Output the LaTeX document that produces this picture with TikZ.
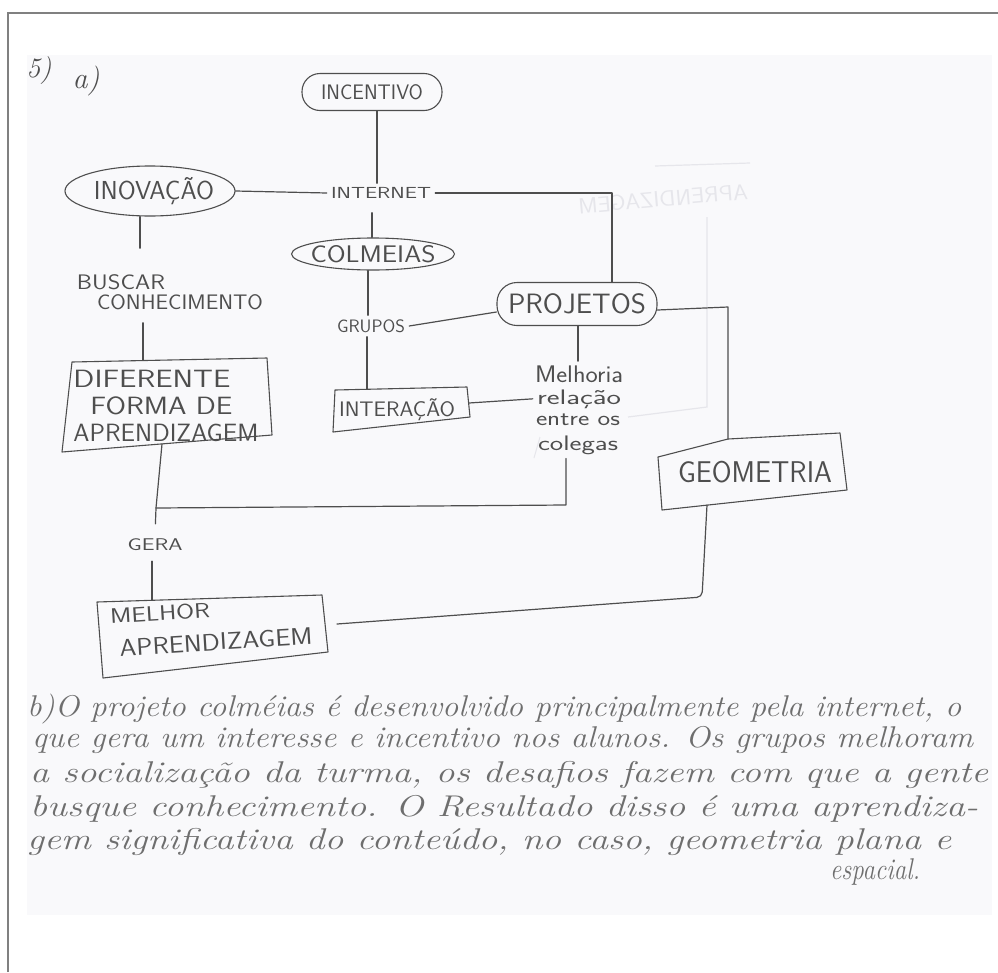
\documentclass[tikz,border=0pt]{standalone}
\usepackage{fontspec}
\usepackage{graphicx}
\usetikzlibrary{shapes.geometric}

\definecolor{framegray}{RGB}{128,128,128}
\definecolor{papertint}{RGB}{249,249,251}
\definecolor{pencil}{RGB}{78,78,78}
\definecolor{cursive}{RGB}{110,110,110}
\definecolor{showthrough}{RGB}{230,230,235}

% text set at a given size, then stretched or squeezed to a given width
\newcommand{\penlabel}[3]{{\fontsize{#1}{#1}\selectfont\resizebox{#2}{\height}{#3}}}

\tikzset{
  lab/.style={inner sep=4pt, text=pencil, font=\sffamily},
  oval/.style={ellipse, draw=pencil, line width=1.1pt, inner sep=0pt, text=pencil, font=\sffamily},
  stadium/.style={rectangle, draw=pencil, line width=1.1pt, inner sep=0pt, text=pencil, font=\sffamily},
  outline/.style={draw=pencil, line width=1.1pt, line join=round},
  link/.style={draw=pencil, line width=1.2pt, line cap=round, line join=round},
  prose/.style={anchor=base west, inner sep=0pt, text=cursive, font=\itshape},
}

\begin{document}
\begin{tikzpicture}[x=1pt, y=-1pt]
\useasboundingbox (0,0) rectangle (998,972);
\fill[white] (0,0) rectangle (998,972);

% scanned sheet and page frame
\fill[papertint] (27,55) rectangle (992,915);
\draw[framegray, line width=2pt] (7.5,972) -- (7.5,13) -- (998,13);

% faint marks showing through from the back of the sheet
\draw[showthrough, line width=1.2pt] (655,166) -- (750,163);
\draw[showthrough, line width=1.2pt] (707,217) -- (707,407) -- (628,417);
\draw[showthrough, line width=1pt] (540,437) -- (534,458);
\node[text=showthrough, font=\sffamily, rotate=5, inner sep=0pt] (backword) at (663,199)
  {\scalebox{-1}[1]{\penlabel{22}{170pt}{APRENDIZAGEM}}};

% item numbers
\node[font=\itshape\fontsize{28}{28}\selectfont, text=pencil, inner sep=0pt] (item5) at (39,71) {5)};
\node[font=\itshape\fontsize{30}{30}\selectfont, text=pencil, inner sep=0pt] (itema) at (86,81) {a)};

% concept map: oval concepts
\node[stadium, rounded corners=18pt, minimum width=140pt, minimum height=37pt] (inc) at (372,92)
  {\makebox[0pt]{\penlabel{21}{102pt}{INCENTIVO}}};
\node[oval, minimum width=170pt, minimum height=50pt] (inov) at (150,191)
  {\makebox[0pt]{\hspace*{8pt}\penlabel{26}{120pt}{INOVAÇÃO}}};
\node[oval, minimum width=163pt, minimum height=32pt] (col) at (373,254)
  {\makebox[0pt]{\penlabel{24}{125pt}{COLMEIAS}}};
\node[stadium, rounded corners=20pt, minimum width=160pt, minimum height=43pt] (proj) at (577,304)
  {\makebox[0pt]{\penlabel{28}{138pt}{PROJETOS}}};

% linking words
\node[lab] (intn) at (381,193) {\penlabel{16}{100pt}{INTERNET}};
\node[lab] (busc) at (121,282) {\penlabel{21}{88pt}{BUSCAR}};
\node[lab] (conh) at (180,302) {\penlabel{21}{166pt}{CONHECIMENTO}};
\node[lab] (grp) at (371,326) {\penlabel{18}{68pt}{GRUPOS}};
\node[lab] (gera) at (155,545) {\penlabel{17}{55pt}{GERA}};
\node[lab, anchor=base, font=\sffamily\fontsize{24}{24}\selectfont] (mlh) at (579,382) {\resizebox{88pt}{\height}{Melhoria}};
\node[lab, anchor=base, font=\sffamily\fontsize{21}{21}\selectfont] (rel) at (579,404) {\resizebox{84pt}{\height}{relação}};
\node[lab, anchor=base, font=\sffamily\fontsize{21}{21}\selectfont] (entre) at (578,425) {\resizebox{84pt}{\height}{entre os}};
\node[lab, anchor=base, font=\sffamily\fontsize{21}{21}\selectfont] (coleg) at (578,450) {\resizebox{80pt}{\height}{colegas}};

% boxed concepts (hand-drawn outlines)
\node[lab] (inter) at (397,410) {\penlabel{21}{116pt}{INTERAÇÃO}};
\draw[outline] (335,390) -- (467,387) -- (470,417) -- (333,432) -- cycle;

\node[lab, align=left, font=\sffamily\fontsize{25}{27}\selectfont] (dif) at (166,406)
  {\resizebox{157pt}{\height}{DIFERENTE}\\
   \hspace*{17pt}\resizebox{142pt}{\height}{FORMA DE}\\
   \resizebox{185pt}{\height}{APRENDIZAGEM}};
\draw[outline] (72,362) -- (267,358) -- (272,435) -- (62,452) -- cycle;

\node[lab] (geo) at (755,472) {\penlabel{30}{154pt}{GEOMETRIA}};
\draw[outline] (658,457) -- (728,439) -- (840,433) -- (847,490) -- (662,510) -- cycle;

\node[lab, inner sep=1pt, rotate=3.5] (melA) at (160,613) {\penlabel{21}{100pt}{MELHOR}};
\node[lab, inner sep=1pt, rotate=3.5] (melB) at (216,642) {\penlabel{24}{193pt}{APRENDIZAGEM}};
\draw[outline] (97,602) -- (322,595) -- (328,652) -- (103,678) -- cycle;

% attachment points on the drawn outlines and bends
\coordinate (inter-t) at (367,389);
\coordinate (inter-r) at (469,403);
\coordinate (dif-t) at (143,360);
\coordinate (dif-b) at (162,444);
\coordinate (geo-t) at (728,439);
\coordinate (geo-b) at (707,505);
\coordinate (mel-t) at (152,600);
\coordinate (mel-r) at (337,624);
\coordinate (jn) at (156,508);
\coordinate (proj-bend) at (728,307);
\coordinate (geo-bend) at (702,597);
\coordinate (coleg-bend) at (566,505);

% connectors
\draw[link] (inc.south -| 377,0) -- (377,0 |- intn.north);
\draw[link] (inov.east) -- (intn.west);
\draw[link] (intn.east) -| (612,0 |- proj.north);
\draw[link, shorten <=10pt] (intn.south -| 372,0) -- (372,0 |- col.north);
\draw[link, shorten >=22pt] (inov.south -| 140,0) -- (140,0 |- busc.north);
\draw[link, shorten <=9pt] (conh.south -| 143,0) -- (dif-t);
\draw[link] (col.south -| 368,0) -- (368,0 |- grp.north);
\draw[link] (grp.east) -- ([yshift=-8pt]proj.west);
\draw[link] (grp.south -| 367,0) -- (inter-t);
\draw[link] (inter-r) -- (rel.west);
\draw[link] (proj.south -| 578,0) -- (578,0 |- mlh.north);
\draw[link] ([yshift=-6pt]proj.east) -- (proj-bend) -- (geo-t);
\draw[link] (coleg.south -| 566,0) -- (coleg-bend) -- (jn);
\draw[link, shorten >=11pt] (dif-b) -- (jn) -- (gera.north);
\draw[link, shorten <=6pt] (gera.south -| 152,0) -- (mel-t);
\draw[link, rounded corners=5pt] (mel-r) -- (geo-bend) -- (geo-b);

% written answer b)
\node[prose] (p1) at (27,716) {\penlabel{30}{934pt}{b)O projeto colméias é desenvolvido principalmente pela internet, o}};
\node[prose] (p2) at (32,747) {\penlabel{30}{941pt}{que gera um interesse e incentivo nos alunos. Os grupos melhoram}};
\node[prose] (p3) at (30,782) {\penlabel{30}{958pt}{a socialização da turma, os desafios fazem com que a gente}};
\node[prose] (p4) at (30,816) {\penlabel{30}{948pt}{busque conhecimento. O Resultado disso é uma aprendiza-}};
\node[prose] (p5) at (27,849) {\penlabel{30}{924pt}{gem significativa do conteúdo, no caso, geometria plana e}};
\node[prose] (p6) at (830,879) {\penlabel{30}{90pt}{espacial.}};
\end{tikzpicture}
\end{document}
